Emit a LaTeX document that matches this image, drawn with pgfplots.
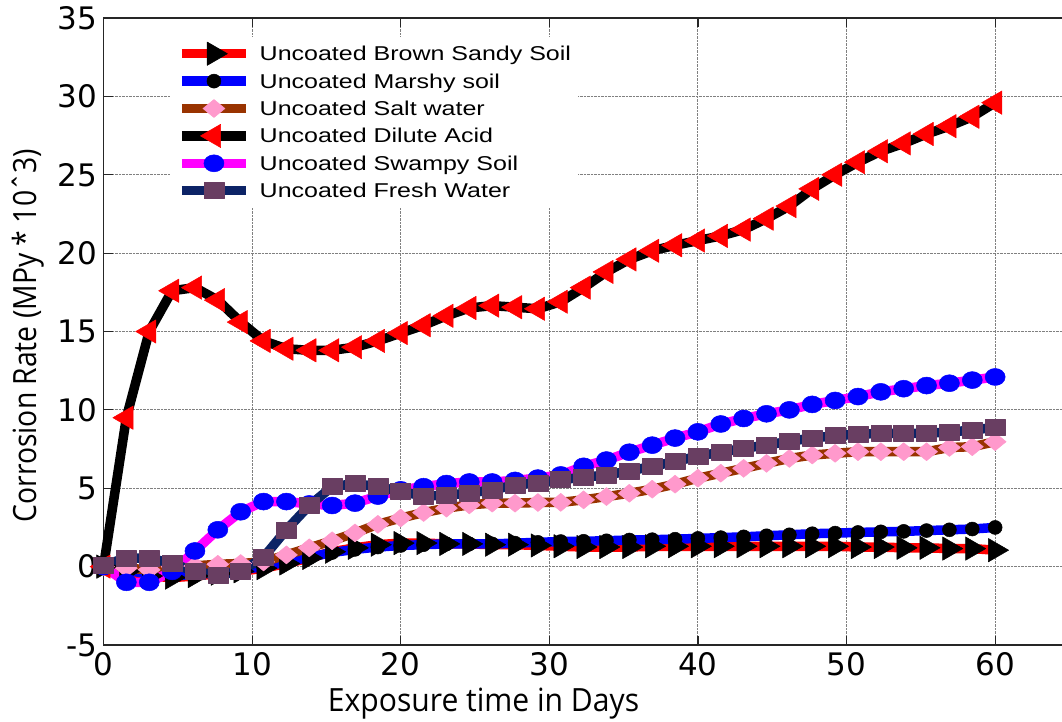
\documentclass[border=0pt]{standalone}
\usepackage{pgfplots}
\pgfplotsset{compat=1.18}
\usepackage{pgfplotstable}
\usepackage{fontspec}
\setmainfont{Liberation Sans}
\newfontfamily\legendfont{Liberation Sans}[FakeStretch=1.25]
\newfontfamily\tickfont{DejaVu Sans}
\newfontfamily\xlabelfont{Open Sans}[FakeStretch=0.94]
\newfontfamily\ylabelfont{Open Sans}[FakeStretch=0.885]

\definecolor{saltline}{RGB}{153,51,0}
\definecolor{saltmark}{RGB}{255,153,204}
\definecolor{freshline}{RGB}{12,35,102}
\definecolor{freshmark}{RGB}{105,62,98}
\definecolor{swampline}{RGB}{255,0,255}
\definecolor{swampmark}{RGB}{0,0,255}

% Corrosion rate (MPy x 10^3) of uncoated samples over 60 days of exposure
\pgfplotstableread{
x      brown  marshy  salt   acid   swampy  fresh
0.000  0.00   0.00    0.00   0.00   0.00    0.10
1.538  -0.30  -0.20   -0.10  9.50   -1.00   0.55
3.077  -0.60  -0.50   -0.20  15.00  -1.00   0.55
4.615  -0.70  -0.60   0.00   17.60  -0.30   0.20
6.154  -0.60  -0.50   0.05   17.80  1.00    -0.30
7.692  -0.45  -0.35   0.15   17.00  2.35    -0.55
9.231  -0.30  -0.20   0.20   15.60  3.50    -0.30
10.769 -0.10  0.00    0.30   14.40  4.15    0.60
12.308 0.20   0.30    0.75   13.90  4.15    2.35
13.846 0.55   0.60    1.20   13.80  4.00    3.90
15.385 0.95   0.90    1.65   13.80  3.90    5.10
16.923 1.20   1.10    2.15   14.00  4.05    5.30
18.462 1.40   1.25    2.70   14.40  4.50    5.10
20.000 1.50   1.35    3.10   14.90  4.90    4.80
21.538 1.50   1.40    3.45   15.40  5.10    4.50
23.077 1.45   1.45    3.73   16.00  5.30    4.55
24.615 1.45   1.45    3.94   16.50  5.40    4.70
26.154 1.40   1.45    4.05   16.65  5.40    4.90
27.692 1.40   1.50    4.05   16.55  5.50    5.20
29.231 1.35   1.55    4.09   16.45  5.65    5.35
30.769 1.30   1.60    4.10   16.90  5.85    5.55
32.308 1.25   1.62    4.26   17.80  6.40    5.70
33.846 1.25   1.65    4.47   18.80  6.80    5.85
35.385 1.25   1.70    4.68   19.60  7.30    6.10
36.923 1.30   1.72    4.94   20.15  7.75    6.40
38.462 1.30   1.75    5.26   20.50  8.20    6.70
40.000 1.30   1.80    5.64   20.80  8.60    7.05
41.538 1.30   1.85    5.96   21.10  9.10    7.30
43.077 1.30   1.90    6.27   21.50  9.45    7.55
44.615 1.30   1.97    6.59   22.20  9.75    7.75
46.154 1.30   2.03    6.90   23.00  10.00   8.00
47.692 1.30   2.10    7.12   24.10  10.35   8.20
49.231 1.30   2.14    7.23   25.00  10.60   8.35
50.769 1.25   2.18    7.33   25.80  10.85   8.45
52.308 1.25   2.22    7.33   26.50  11.15   8.50
53.846 1.20   2.25    7.33   27.00  11.35   8.50
55.385 1.20   2.30    7.33   27.60  11.55   8.50
56.923 1.15   2.35    7.60   28.10  11.70   8.60
58.462 1.15   2.40    7.65   28.70  11.90   8.70
60.000 1.05   2.50    7.97   29.60  12.10   8.90
}\corrosion

\begin{document}
\begin{tikzpicture}
\path[use as bounding box] (-103.5pt,-76pt) rectangle (958.5pt,645pt);
\begin{axis}[
  at={(0pt,0pt)}, anchor=south west,
  scale only axis, width=958.5pt, height=627pt,
  xmin=0, xmax=64.5, ymin=-5, ymax=35,
  xtick={0,10,...,60}, ytick={-5,0,...,35},
  xticklabels={0,10,20,30,40,50,60},
  yticklabels={-5,0,5,10,15,20,25,30,35},
  axis x line*=box, axis y line*=left,
  x axis line style={-}, y axis line style={-},
  axis line style={line width=1.8pt, black!85},
  tick align=inside, major tick length=9pt,
  tick style={line width=1.2pt, black!85},
  ticklabel style={font=\tickfont\fontsize{31}{31}\selectfont},
  yticklabel style={xshift=-3pt},
  xticklabel style={yshift=-4pt},
  grid=major,
  major grid style={densely dotted, line width=0.9pt, black!50},
  clip=false,
  xlabel={Exposure time in Days},
  xlabel style={font=\xlabelfont\fontsize{32}{32}\selectfont,
    at={(axis description cs:0.3965,-0.1053)}, anchor=base},
  ylabel={Corrosion Rate (MPy * 10ˆ3)},
  ylabel style={font=\ylabelfont\fontsize{32}{32}\selectfont,
    at={(axis description cs:-0.0697,0.493)}, anchor=base},
  legend cell align=left,
  legend style={at={(axis description cs:0.0694,0.970)}, anchor=north west,
    draw=none, fill=white, inner xsep=7pt, inner ysep=3pt,
    row sep=0pt, column sep=9pt,
    font=\legendfont\fontsize{20}{20}\selectfont,
    nodes={inner xsep=0pt, inner ysep=0pt, text height=20.7pt, text depth=6.7pt}},
  legend image code/.code={
    \draw[mark repeat=2, mark phase=2, #1]
      plot coordinates {(0pt,0pt) (32pt,0pt) (64pt,0pt)};
  },
  every axis plot/.append style={line width=9.5pt, line join=round},
]
\addplot[color=red, mark=triangle*, mark size=13.5pt,
  mark options={rotate=-90, fill=black, draw=black, line width=0.5pt}]
  table[x=x, y=brown] {\corrosion};
\addlegendentry{Uncoated Brown Sandy Soil}
\addplot[color=blue, mark=*, mark size=7pt,
  mark options={fill=black, draw=black, line width=0.5pt}]
  table[x=x, y=marshy] {\corrosion};
\addlegendentry{Uncoated Marshy soil}
\addplot[color=saltline, mark=diamond*, mark size=9pt,
  mark options={xscale=1.63, fill=saltmark, draw=saltmark, line width=0.5pt}]
  table[x=x, y=salt] {\corrosion};
\addlegendentry{Uncoated Salt water}
\addplot[color=black, mark=triangle*, mark size=13.5pt,
  mark options={rotate=90, fill=red, draw=red, line width=0.5pt}]
  table[x=x, y=acid] {\corrosion};
\addlegendentry{Uncoated Dilute Acid}
\addplot[color=swampline, mark=*, mark size=8.5pt,
  mark options={xscale=1.18, fill=swampmark, draw=swampmark, line width=0.5pt}]
  table[x=x, y=swampy] {\corrosion};
\addlegendentry{Uncoated Swampy Soil}
\addplot[color=freshline, mark=square*, mark size=8pt,
  mark options={xscale=1.25, fill=freshmark, draw=freshmark, line width=0.5pt}]
  table[x=x, y=fresh] {\corrosion};
\addlegendentry{Uncoated Fresh Water}
\end{axis}
\end{tikzpicture}
\end{document}
